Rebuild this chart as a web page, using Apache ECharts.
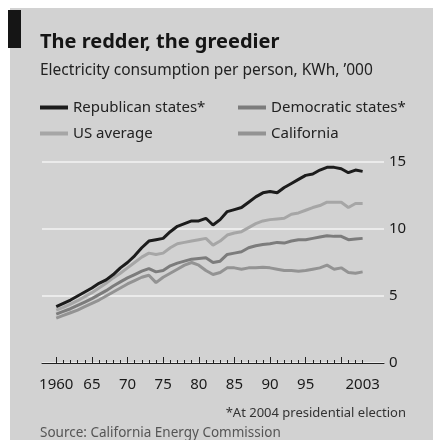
<!DOCTYPE html>
<html lang="en">
<head>
    <meta charset="UTF-8">
    <title>The redder, the greedier</title>
    <script src="https://cdn.jsdelivr.net/npm/echarts@6/dist/echarts.min.js"></script>
    <style>
        html, body { margin: 0; padding: 0; background: #ffffff; }
        #box { width: 433px; height: 440px; }
    </style>
</head>
<body>
<div id="box"></div>
<script>
    // 年份 1960-2003
    var years = [];
    for (var y = 1960; y <= 2003; y++) years.push(y);

    // 每人用电量, KWh '000
    var republican = [4.2, 4.45, 4.7, 5.0, 5.3, 5.6, 5.95, 6.2, 6.6, 7.1,
        7.5, 8.0, 8.6, 9.1, 9.2, 9.3, 9.8, 10.2, 10.4, 10.6,
        10.6, 10.8, 10.3, 10.7, 11.3, 11.45, 11.6, 12.0, 12.4, 12.7,
        12.8, 12.7, 13.1, 13.4, 13.7, 14.0, 14.1, 14.4, 14.6, 14.6,
        14.5, 14.2, 14.4, 14.3];
    var usAverage = [3.95, 4.15, 4.4, 4.65, 4.95, 5.25, 5.6, 5.95, 6.35, 6.7,
        7.1, 7.5, 7.9, 8.2, 8.1, 8.2, 8.6, 8.9, 9.0, 9.1,
        9.2, 9.3, 8.8, 9.1, 9.55, 9.7, 9.8, 10.1, 10.4, 10.6,
        10.7, 10.75, 10.8, 11.1, 11.2, 11.4, 11.6, 11.75, 12.0, 12.0,
        12.0, 11.6, 11.9, 11.9];
    var democratic = [3.65, 3.85, 4.05, 4.3, 4.55, 4.8, 5.1, 5.4, 5.75, 6.05,
        6.35, 6.6, 6.85, 7.05, 6.8, 6.9, 7.25, 7.45, 7.6, 7.75,
        7.8, 7.85, 7.5, 7.6, 8.1, 8.2, 8.3, 8.6, 8.75, 8.85,
        8.9, 9.0, 8.95, 9.1, 9.2, 9.2, 9.3, 9.4, 9.5, 9.45,
        9.45, 9.2, 9.25, 9.3];
    var california = [3.35, 3.55, 3.75, 3.95, 4.2, 4.45, 4.7, 5.0, 5.3, 5.6,
        5.9, 6.15, 6.4, 6.55, 6.0, 6.4, 6.7, 7.0, 7.3, 7.5,
        7.3, 6.9, 6.6, 6.75, 7.1, 7.1, 7.0, 7.1, 7.1, 7.15,
        7.1, 7.0, 6.9, 6.9, 6.85, 6.9, 7.0, 7.1, 7.3, 7.0,
        7.1, 6.75, 6.7, 6.8];

    // 刻度
    var minorTicks = years;
    var majorTicks = [1960, 1965, 1970, 1975, 1980, 1985, 1990, 1995, 2000];
    var xLabels = [1960, 1965, 1970, 1975, 1980, 1985, 1990, 1995, 2003];
    var xLabelText = {1960: '1960', 1965: '65', 1970: '70', 1975: '75', 1980: '80',
        1985: '85', 1990: '90', 1995: '95', 2003: '2003'};

    function pairs(arr) {
        return years.map(function (yr, i) { return [yr, arr[i]]; });
    }

    var font = '"Noto Sans", sans-serif';
    var myChart = echarts.init(document.getElementById('box'));

    var option = {
        backgroundColor: '#ffffff',
        animation: false,
        textStyle: { fontFamily: font },
        graphic: [
            { type: 'rect', z: -10, shape: { x: 10, y: 8, width: 423, height: 432 }, style: { fill: '#d2d2d2' } },
            { type: 'rect', z: 10, shape: { x: 8, y: 10, width: 13, height: 38 }, style: { fill: '#151515' } },
            { type: 'text', left: 40, top: 32, style: { text: 'The redder, the greedier', font: 'bold 20px ' + font, fill: '#151515' } },
            { type: 'text', left: 40, top: 63, style: { text: 'Electricity consumption per person, KWh, \u2019000', font: '15.5px ' + font, fill: '#222' } },
            { type: 'text', right: 27, top: 407, style: { text: '*At 2004 presidential election', font: '13px ' + font, fill: '#333' } },
            { type: 'text', left: 40, top: 426, style: { text: 'Source: California Energy Commission', font: '13.5px ' + font, fill: '#555' } }
        ],
        legend: [
            {
                left: 40, top: 100, orient: 'vertical', itemGap: 11, padding: 0,
                itemWidth: 28, itemHeight: 4, icon: 'rect',
                textStyle: { fontSize: 15, color: '#222', fontFamily: font },
                data: ['Republican states*', 'US average']
            },
            {
                left: 238, top: 100, orient: 'vertical', itemGap: 11, padding: 0,
                itemWidth: 28, itemHeight: 4, icon: 'rect',
                textStyle: { fontSize: 15, color: '#222', fontFamily: font },
                data: ['Democratic states*', 'California']
            }
        ],
        grid: { left: 42, right: 49, top: 162, bottom: 77 },
        xAxis: [
            {
                type: 'value', min: 1958, max: 2006, position: 'bottom',
                splitLine: { show: false },
                axisLine: { show: true, onZero: false, lineStyle: { color: '#222', width: 1 } },
                axisTick: { show: true, inside: true, length: 3, customValues: minorTicks, lineStyle: { color: '#222' } },
                axisLabel: {
                    show: true, customValues: xLabels, margin: 14, fontSize: 15, color: '#1a1a1a', fontFamily: font,
                    formatter: function (v) { return xLabelText[v] || ''; }
                }
            },
            {
                type: 'value', min: 1958, max: 2006, position: 'bottom',
                splitLine: { show: false },
                axisLine: { show: false, onZero: false },
                axisTick: { show: true, inside: true, length: 6, customValues: majorTicks, lineStyle: { color: '#222' } },
                axisLabel: { show: false }
            }
        ],
        yAxis: {
            type: 'value', position: 'right', min: 0, max: 15, interval: 5,
            axisLine: { show: false },
            axisTick: { show: false },
            axisLabel: { margin: 5, fontSize: 15, color: '#1a1a1a', fontFamily: font, verticalAlign: 'middle' },
            splitLine: { lineStyle: { color: '#ebebeb', width: 2 } }
        },
        series: [
            { name: 'California', type: 'line', showSymbol: false, z: 2, data: pairs(california),
                lineStyle: { color: '#939393', width: 3 }, itemStyle: { color: '#939393' } },
            { name: 'Democratic states*', type: 'line', showSymbol: false, z: 3, data: pairs(democratic),
                lineStyle: { color: '#7c7c7c', width: 3 }, itemStyle: { color: '#7c7c7c' } },
            { name: 'US average', type: 'line', showSymbol: false, z: 4, data: pairs(usAverage),
                lineStyle: { color: '#a6a6a6', width: 3 }, itemStyle: { color: '#a6a6a6' } },
            { name: 'Republican states*', type: 'line', showSymbol: false, z: 5, data: pairs(republican),
                lineStyle: { color: '#1c1c1c', width: 3 }, itemStyle: { color: '#1c1c1c' } }
        ]
    };
    myChart.setOption(option);
</script>
</body>
</html>
